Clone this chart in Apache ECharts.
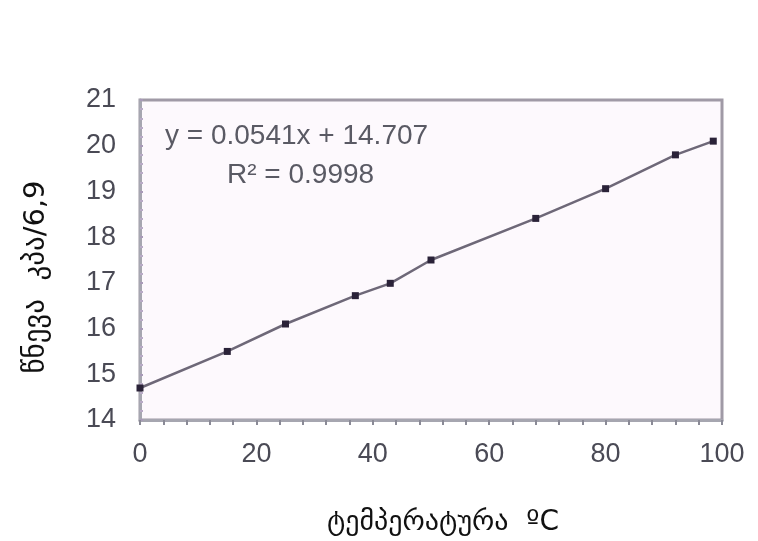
<!DOCTYPE html>
<html>
<head>
<meta charset="utf-8">
<script src="https://cdn.jsdelivr.net/npm/echarts@6/dist/echarts.min.js"></script>
<style>
html,body{margin:0;padding:0;background:#ffffff;}
#c{width:758px;height:541px;}
</style>
</head>
<body>
<div id="c"></div>
<script>
const temperature = [0, 15, 25, 37, 43, 50, 68, 80, 92, 98.5];
const pressure = [14.7, 15.5, 16.1, 16.72, 16.99, 17.5, 18.41, 19.06, 19.8, 20.1];
const xTicks = [0, 20, 40, 60, 80, 100];
const yTicks = [14, 15, 16, 17, 18, 19, 20, 21];
const equationText = 'y = 0.0541x + 14.707';
const r2Text = 'R² = 0.9998';
const xName = 'ტემპერატურა  ºC';
const yName = 'წნევა  კპა/6,9';

const chart = echarts.init(document.getElementById('c'));
chart.setOption({
  backgroundColor: '#ffffff',
  animation: false,
  grid: {left: 140, right: 36, top: 100, bottom: 121, show: true, backgroundColor: '#fdf9fd', borderColor: '#a09aa6', borderWidth: 3},
  xAxis: {
    type: 'value', min: xTicks[0], max: xTicks[xTicks.length-1], interval: 20,
    axisLine: {show: true, lineStyle: {color: '#a6a6b0', width: 3}},
    axisTick: {show: true, inside: false, length: 5, lineStyle: {color: '#8a8a96', width: 2}},
    minorTick: {show: true, splitNumber: 5, length: 5, lineStyle: {color: '#8a8a96', width: 2}},
    axisLabel: {fontFamily: 'Liberation Sans', fontSize: 27, color: '#4a4a55', margin: 21},
    splitLine: {show: false}
  },
  yAxis: {
    type: 'value', min: yTicks[0], max: yTicks[yTicks.length-1], interval: 1,
    axisLine: {show: true, lineStyle: {color: '#a6a6b0', width: 3}},
    axisTick: {show: true, inside: true, length: 3, lineStyle: {color: '#a89ab8', width: 2}},
    minorTick: {show: true, splitNumber: 5, length: 3, lineStyle: {color: '#b8aac6', width: 2}},
    axisLabel: {fontFamily: 'Liberation Sans', fontSize: 27, color: '#4a4a55', margin: 24},
    splitLine: {show: false}
  },
  series: [{
    type: 'line',
    data: temperature.map((t, i) => [t, pressure[i]]),
    symbol: 'rect', symbolSize: 7,
    itemStyle: {color: '#2a2238'},
    lineStyle: {color: '#6e6878', width: 2.5}
  }],
  graphic: [
    {type: 'text', x: 165, y: 136, style: {text: equationText, font: '28px "Liberation Sans"', fill: '#5a5a64', textVerticalAlign: 'middle'}},
    {type: 'text', x: 227, y: 175, style: {text: r2Text, font: '28px "Liberation Sans"', fill: '#5a5a64', textVerticalAlign: 'middle'}},
    {type: 'text', x: 443, y: 523, style: {text: xName, font: '28px "DejaVu Sans"', fill: '#111', textAlign: 'center', textVerticalAlign: 'middle'}},
    {type: 'text', x: 36, y: 277, rotation: Math.PI / 2, style: {text: yName, font: '29px "DejaVu Sans"', fill: '#111', textAlign: 'center', textVerticalAlign: 'middle'}}
  ]
});
</script>
</body>
</html>
